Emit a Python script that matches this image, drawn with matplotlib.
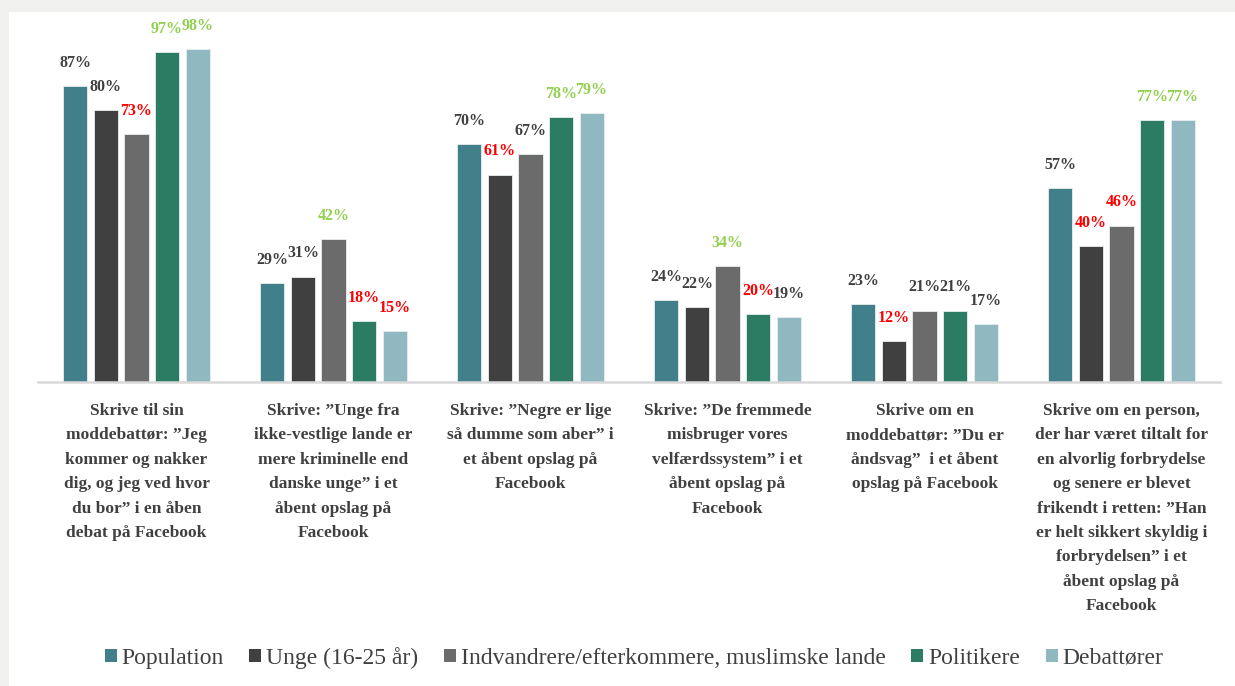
import numpy as np
import matplotlib
matplotlib.use("Agg")
import matplotlib.pyplot as plt
from matplotlib.patches import Patch, Rectangle
from matplotlib import transforms

# --- Data ---
categories = [
    "Skrive til sin\nmoddebattør: ”Jeg\nkommer og nakker\ndig, og jeg ved hvor\ndu bor” i en åben\ndebat på Facebook",
    "Skrive: ”Unge fra\nikke-vestlige lande er\nmere kriminelle end\ndanske unge” i et\nåbent opslag på\nFacebook",
    "Skrive: ”Negre er lige\nså dumme som aber” i\net åbent opslag på\nFacebook",
    "Skrive: ”De fremmede\nmisbruger vores\nvelfærdssystem” i et\nåbent opslag på\nFacebook",
    "Skrive om en\nmoddebattør: ”Du er\nåndsvag”  i et åbent\nopslag på Facebook",
    "Skrive om en person,\nder har været tiltalt for\nen alvorlig forbrydelse\nog senere er blevet\nfrikendt i retten: ”Han\ner helt sikkert skyldig i\nforbrydelsen” i et\nåbent opslag på\nFacebook",
]
series_names = ["Population", "Unge (16-25 år)",
                "Indvandrere/efterkommere, muslimske lande",
                "Politikere", "Debattører"]
population = [87, 29, 70, 24, 23, 57]
unge = [80, 31, 61, 22, 12, 40]
indvandrere = [73, 42, 67, 34, 21, 46]
politikere = [97, 18, 78, 20, 21, 77]
debattorer = [98, 15, 79, 19, 17, 77]

# label highlight per value: "n" normal, "r" red (low), "g" green (high)
population_hl = ["n", "n", "n", "n", "n", "n"]
unge_hl = ["n", "n", "r", "n", "r", "r"]
indvandrere_hl = ["r", "g", "n", "g", "n", "r"]
politikere_hl = ["g", "r", "g", "r", "n", "g"]
debattorer_hl = ["g", "r", "g", "n", "n", "g"]

series = [population, unge, indvandrere, politikere, debattorer]
highlights = [population_hl, unge_hl, indvandrere_hl, politikere_hl, debattorer_hl]
colors = ["#417f8a", "#404040", "#6b6b6b", "#2b7c62", "#8fb8c0"]
label_colors = {"n": "#404040", "r": "#ff0000", "g": "#92d050"}

serif = ["Liberation Serif", "DejaVu Serif"]

# --- Figure ---
fig = plt.figure(figsize=(12.35, 6.86), dpi=100)
fig.patch.set_facecolor("#f0f0ef")
fig.patches.append(Rectangle((9 / 1235, 0), 1, 1 - 12 / 686, transform=fig.transFigure,
                             facecolor="white", edgecolor="none", zorder=-10))

ax = fig.add_axes([38 / 1235, 1 - 382 / 686, 1182 / 1235, 340 / 686])
ax.set_facecolor("none")

x = np.arange(len(categories))
pitch = 0.155
width = 0.122

for i, (vals, hl, col) in enumerate(zip(series, highlights, colors)):
    pos = x + (i - 2) * pitch
    ax.bar(pos, vals, width, color=col, edgecolor="#e8eef0", linewidth=0.6, zorder=2)
    for px, v, h in zip(pos, vals, hl):
        ax.annotate(f"{v}%", (px, v), xytext=(0, 11), textcoords="offset points",
                    ha="center", va="bottom", fontsize=11.5, fontweight="bold",
                    family=serif, color=label_colors[h], annotation_clip=False)

ax.set_xlim(-0.5, len(categories) - 0.5)
ax.set_ylim(0, 100)
ax.set_yticks([])
ax.set_xticks([])
for s in ["top", "right", "left"]:
    ax.spines[s].set_visible(False)
ax.spines["bottom"].set_color("#d9d9d9")
ax.spines["bottom"].set_linewidth(1.8)

trans = transforms.blended_transform_factory(ax.transData, ax.transAxes)
for xi, cat in zip(x, categories):
    ax.text(xi, -0.062, cat, transform=trans, ha="center", va="top",
            fontsize=12.5, fontweight="bold", family=serif, color="#404040",
            linespacing=1.7)

handles = [Patch(facecolor=c, edgecolor="none") for c in colors]
fig.legend(handles, series_names, loc="center", bbox_to_anchor=(634 / 1235, 1 - 658 / 686),
           ncol=5, frameon=False, handlelength=0.5, handleheight=0.5, handletextpad=0.2,
           columnspacing=1.1, prop={"family": serif, "size": 17}, labelcolor="#404040")

fig.savefig("out.png", dpi=100, facecolor=fig.get_facecolor())
